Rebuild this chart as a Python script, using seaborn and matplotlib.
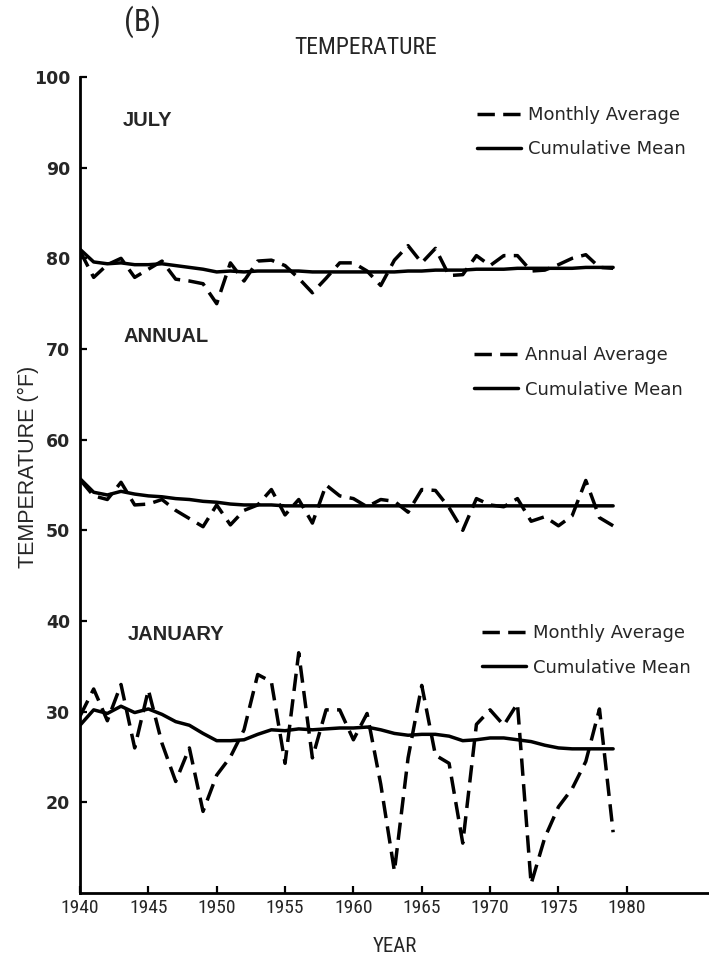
import matplotlib
matplotlib.use("Agg")
import matplotlib.pyplot as plt
import seaborn as sns
import pandas as pd
from matplotlib import font_manager

# ---------------- data ----------------
years = list(range(1940, 1980))

july_monthly = [80.8, 77.9, 79.3, 80.0, 77.9, 78.8, 79.7, 77.7, 77.5, 77.2,
                75.0, 79.5, 77.5, 79.7, 79.8, 79.2, 77.8, 76.2, 77.8, 79.5,
                79.5, 78.6, 77.0, 79.8, 81.4, 79.5, 81.1, 78.1, 78.2, 80.3,
                79.2, 80.3, 80.3, 78.6, 78.7, 79.3, 80.0, 80.4, 79.0, 78.9]
july_cum = [81.0, 79.6, 79.4, 79.5, 79.3, 79.3, 79.4, 79.2, 79.0, 78.8,
            78.5, 78.6, 78.5, 78.6, 78.6, 78.6, 78.6, 78.5, 78.5, 78.5,
            78.5, 78.5, 78.5, 78.5, 78.6, 78.6, 78.7, 78.7, 78.7, 78.8,
            78.8, 78.8, 78.9, 78.9, 78.9, 78.9, 78.9, 79.0, 79.0, 79.0]

annual_avg = [55.6, 53.8, 53.4, 55.3, 52.8, 52.9, 53.4, 52.2, 51.3, 50.4,
              52.8, 50.6, 52.2, 52.8, 54.5, 51.7, 53.4, 50.8, 55.0, 53.8,
              53.5, 52.6, 53.4, 53.2, 52.0, 54.5, 54.4, 52.5, 50.0, 53.5,
              52.8, 52.6, 53.5, 51.0, 51.5, 50.5, 51.6, 55.5, 51.4, 50.5]
annual_cum = [55.7, 54.2, 53.9, 54.3, 54.0, 53.8, 53.7, 53.5, 53.4, 53.2,
              53.1, 52.9, 52.8, 52.8, 52.8, 52.7, 52.7, 52.7, 52.7, 52.7,
              52.7, 52.7, 52.7, 52.7, 52.7, 52.7, 52.7, 52.7, 52.7, 52.7,
              52.7, 52.7, 52.7, 52.7, 52.7, 52.7, 52.7, 52.7, 52.7, 52.7]

jan_monthly = [29.5, 32.5, 29.0, 33.0, 26.0, 32.4, 26.5, 22.3, 26.0, 19.0,
               23.0, 25.0, 28.0, 34.1, 33.3, 24.3, 36.5, 24.9, 30.2, 30.2,
               26.9, 29.8, 22.0, 12.4, 24.9, 32.9, 25.2, 24.3, 15.5, 28.6,
               30.2, 28.5, 30.9, 11.0, 16.1, 19.5, 21.5, 24.5, 30.3, 16.7]
jan_cum = [28.5, 30.2, 29.8, 30.6, 29.9, 30.3, 29.7, 28.9, 28.5, 27.6,
           26.8, 26.8, 26.9, 27.5, 28.0, 27.9, 28.1, 28.0, 28.1, 28.2,
           28.2, 28.3, 28.0, 27.6, 27.4, 27.5, 27.5, 27.3, 26.8, 26.9,
           27.1, 27.1, 26.9, 26.7, 26.3, 26.0, 25.9, 25.9, 25.9, 25.9]

x_ticks = [1940, 1945, 1950, 1955, 1960, 1965, 1970, 1975, 1980]
y_ticks = [20, 30, 40, 50, 60, 70, 80, 90, 100]

panel_names = ["JULY", "ANNUAL", "JANUARY"]
avg_labels = ["Monthly Average", "Annual Average", "Monthly Average"]
cum_label = "Cumulative Mean"

# ---------------- style ----------------
sns.set_style("ticks")
plt.rcParams["font.family"] = ["DejaVu Sans"]

fm_list = font_manager.fontManager.ttflist
names = {f.name for f in fm_list}
cond_family, cond_stretch = None, "normal"
for cand in ["Liberation Sans Narrow", "Roboto Condensed", "Open Sans Condensed",
             "Noto Sans Condensed", "DejaVu Sans Condensed", "Arial Narrow"]:
    if cand in names:
        cond_family = cand
        break
if cond_family is None:
    for f in fm_list:
        if f.name == "DejaVu Sans" and str(f.stretch) in ("condensed", "semi-condensed"):
            cond_family, cond_stretch = "DejaVu Sans", "condensed"
            break
HAVE_COND = cond_family is not None
if not HAVE_COND:
    cond_family = "DejaVu Sans"
SANS = "Liberation Sans" if "Liberation Sans" in names else "DejaVu Sans"

W, H = 709, 961
fig = plt.figure(figsize=(W / 100, H / 100), dpi=100)
fig.patch.set_facecolor("white")

def fx(px):
    return px / W

def fy(py):
    return 1 - py / H

left, right, top, bottom = 80, 709, 77, 893
ax = fig.add_axes([fx(left), fy(bottom), fx(right) - fx(left), fy(top) - fy(bottom)])
ax.set_facecolor("white")

LW = 2.5
series = [(july_monthly, july_cum), (annual_avg, annual_cum), (jan_monthly, jan_cum)]
handles = []
for avg, cum in series:
    df = pd.DataFrame({"year": years, "avg": avg, "cum": cum})
    sns.lineplot(data=df, x="year", y="avg", ax=ax, color="black", linewidth=LW,
                 estimator=None, sort=False)
    l_avg = ax.get_lines()[-1]
    l_avg.set_dashes((5, 2.4))
    l_avg.set_dash_capstyle("butt")
    sns.lineplot(data=df, x="year", y="cum", ax=ax, color="black", linewidth=LW,
                 estimator=None, sort=False)
    l_cum = ax.get_lines()[-1]
    l_cum.set_solid_joinstyle("round")
    handles.append((l_avg, l_cum))

ax.set_xlim(1940, 1940 + (right - left) / 13.67)
ax.set_ylim(10, 100)
ax.set_xticks(x_ticks)
ax.set_xticklabels([str(t) for t in x_ticks])
ax.set_yticks(y_ticks)
ax.set_yticklabels([str(t) for t in y_ticks])
ax.set_xlabel("")
ax.set_ylabel("")

for s in ["top", "right"]:
    ax.spines[s].set_visible(False)
for s in ["left", "bottom"]:
    ax.spines[s].set_linewidth(2.0)
    ax.spines[s].set_color("black")

ax.tick_params(axis="both", direction="in", length=5, width=1.6, color="black")
ax.tick_params(axis="y", pad=7, labelsize=12.5)
ax.tick_params(axis="x", pad=4, labelsize=14 if HAVE_COND else 11)
for lab in ax.get_yticklabels():
    lab.set_fontweight("bold")
    lab.set_family("DejaVu Sans")
for lab in ax.get_xticklabels():
    lab.set_family(cond_family)
    lab.set_fontstretch(cond_stretch)

# titles and axis labels
fig.text(fx(142), fy(22), "(B)", ha="center", va="center",
         fontsize=22.5 if HAVE_COND else 19, family=cond_family, stretch=cond_stretch)
fig.text(fx(366), fy(48), "TEMPERATURE", ha="center", va="center",
         fontsize=17 if HAVE_COND else 13, family=cond_family, stretch=cond_stretch)
fig.text(fx(28), fy(467), "TEMPERATURE (°F)", ha="center", va="center", rotation=90,
         fontsize=15.5, family=SANS)
fig.text(fx(395), fy(946), "YEAR", ha="center", va="center",
         fontsize=15 if HAVE_COND else 12.5, family=cond_family, stretch=cond_stretch)

# panel labels
panel_pos = [(123, 120), (124, 336), (128, 635)]
for name, (px, py) in zip(panel_names, panel_pos):
    fig.text(fx(px), fy(py), name, ha="left", va="center", fontsize=14.5,
             fontweight="bold", family=SANS)

# legends (anchor = left end of the line samples, vertical middle of the two rows)
legend_pos = [(477, 132), (474, 372.5), (482, 650.5)]
legs = []
for (l_avg, l_cum), lab, (px, py) in zip(handles, avg_labels, legend_pos):
    leg = ax.legend([l_avg, l_cum], [lab, cum_label], loc="center left",
                    bbox_to_anchor=(fx(px), fy(py)), bbox_transform=fig.transFigure,
                    frameon=False, borderpad=0, borderaxespad=0,
                    handlelength=2.45, handletextpad=0.4, labelspacing=0.9,
                    prop={"family": "DejaVu Sans", "size": 13})
    legs.append(leg)
for leg in legs[:-1]:
    ax.add_artist(leg)

fig.savefig("out.png", dpi=100, facecolor="white")
